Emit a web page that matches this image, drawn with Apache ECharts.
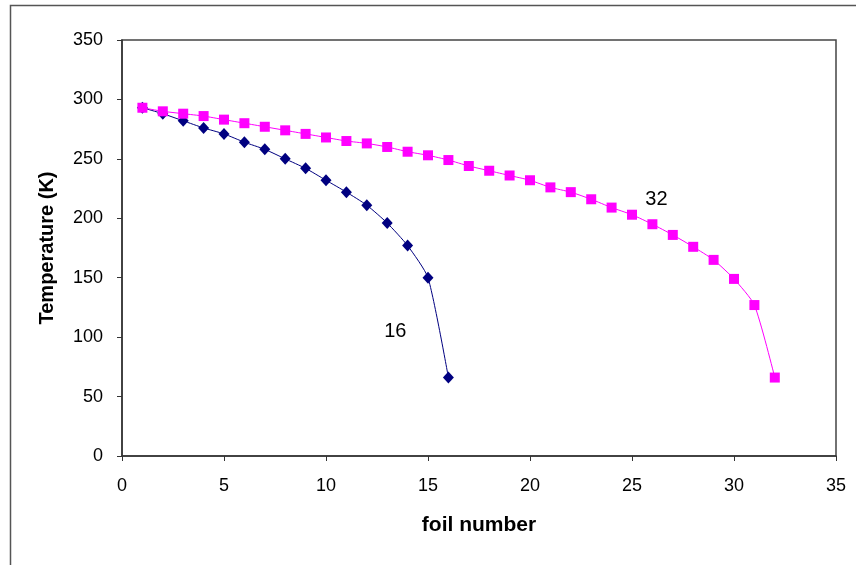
<!DOCTYPE html>
<html>
<head>
<meta charset="utf-8">
<script src="https://cdn.jsdelivr.net/npm/echarts@6/dist/echarts.min.js"></script>
<style>
html,body{margin:0;padding:0;background:#fff;}
#chart{width:856px;height:565px;}
</style>
</head>
<body>
<div id="chart"></div>
<script>
var foils16 = [1,2,3,4,5,6,7,8,9,10,11,12,13,14,15,16];
var temps16 = [293,288,282,276,271,264,258,250,242,232,222,211,196,177,150,66];
var foils32 = [1,2,3,4,5,6,7,8,9,10,11,12,13,14,15,16,17,18,19,20,21,22,23,24,25,26,27,28,29,30,31,32];
var temps32 = [293,290,288,286,283,280,277,274,271,268,265,263,260,256,253,249,244,240,236,232,226,222,216,209,203,195,186,176,165,149,127,66];
var label16 = {text: '16', x: 13.4, y: 105};
var label32 = {text: '32', x: 26.2, y: 216};

var chart = echarts.init(document.getElementById('chart'), null, {renderer: 'canvas'});
function pairs(xs, ys){ return xs.map(function(x,i){ return [x, ys[i]]; }); }
var font = 'Liberation Sans, Arial, sans-serif';
chart.setOption({
  animation: false,
  backgroundColor: '#ffffff',
  graphic: [{
    type: 'rect', shape: {x: 10.5, y: 5.5, width: 900, height: 700},
    style: {fill: 'none', stroke: '#555', lineWidth: 1.5}, z: -1
  }],
  grid: {left: 122, right: 20, top: 40, bottom: 109, show: true, borderColor: '#444', borderWidth: 1.5},
  xAxis: {
    type: 'value', min: 0, max: 35, interval: 5,
    name: 'foil number', nameLocation: 'middle', nameGap: 59,
    nameTextStyle: {fontFamily: font, fontSize: 21, fontWeight: 'bold', color: '#000'},
    axisLine: {show: true, onZero: false, lineStyle: {color: '#333', width: 1.5}},
    axisTick: {show: true, length: 5, lineStyle: {color: '#333'}},
    axisLabel: {fontFamily: font, fontSize: 18, color: '#000', margin: 21},
    splitLine: {show: false}
  },
  yAxis: {
    type: 'value', min: 0, max: 350, interval: 50,
    name: 'Temperature (K)', nameLocation: 'middle', nameGap: 65,
    nameTextStyle: {fontFamily: font, fontSize: 20, fontWeight: 'bold', color: '#000'},
    axisLine: {show: true, lineStyle: {color: '#333', width: 1.5}},
    axisTick: {show: true, length: 5, lineStyle: {color: '#333'}},
    axisLabel: {fontFamily: font, fontSize: 18, color: '#000', margin: 19},
    splitLine: {show: false}
  },
  series: [{
    name: '16', type: 'line', data: pairs(foils16, temps16),
    smooth: 0.2, symbol: 'diamond', symbolSize: [11, 12],
    lineStyle: {color: '#000080', width: 1},
    itemStyle: {color: '#000080'},
    markPoint: {
      symbol: 'circle', symbolSize: 0,
      data: [{coord: [label16.x, label16.y], value: label16.text}],
      label: {show: true, position: 'inside', formatter: label16.text, fontFamily: font, fontSize: 20, color: '#000'}
    }
  }, {
    name: '32', type: 'line', data: pairs(foils32, temps32),
    smooth: 0.2, symbol: 'rect', symbolSize: 10,
    lineStyle: {color: '#FF00FF', width: 1},
    itemStyle: {color: '#FF00FF'},
    markPoint: {
      symbol: 'circle', symbolSize: 0,
      data: [{coord: [label32.x, label32.y], value: label32.text}],
      label: {show: true, position: 'inside', formatter: label32.text, fontFamily: font, fontSize: 20, color: '#000'}
    }
  }]
});
</script>
</body>
</html>
